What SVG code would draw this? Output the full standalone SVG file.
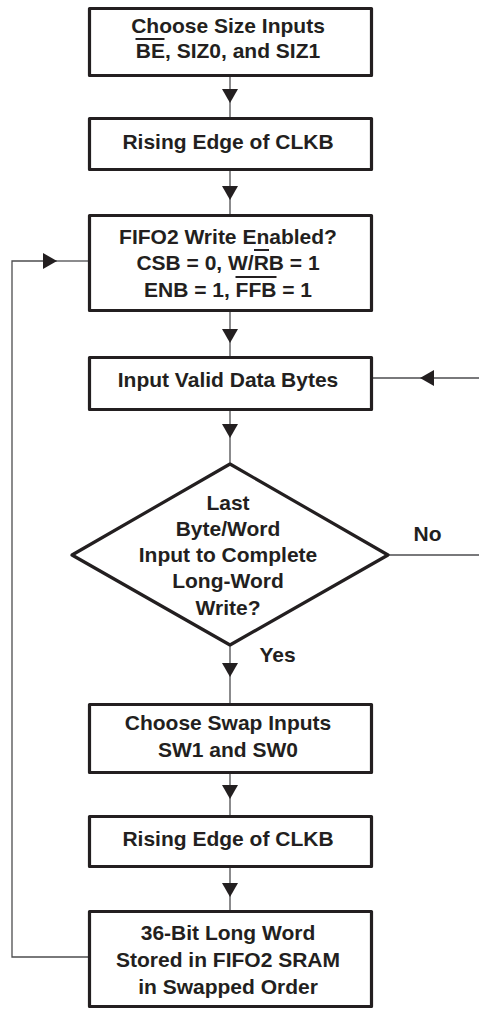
<svg xmlns="http://www.w3.org/2000/svg" width="479" height="1011" viewBox="0 0 479 1011">
  <style>
    .box { fill: #ffffff; stroke: #231f20; stroke-width: 3.2; stroke-linejoin: round; }
    .lbl { font-family: "Liberation Sans", Arial, sans-serif; font-weight: bold; font-size: 21px; fill: #231f20; text-anchor: middle; }
    .wire { fill: none; stroke: #4d4d4f; stroke-width: 1.3; }
    .bar { stroke: #231f20; stroke-width: 2; }
  </style>
  <defs>
    <marker id="head" markerUnits="userSpaceOnUse" viewBox="0 0 14 16" refX="14" refY="8" markerWidth="14" markerHeight="16" orient="auto">
      <path d="M0,0 L14,8 L0,16 Z" fill="#231f20"/>
    </marker>
  </defs>
  <rect width="479" height="1011" fill="#ffffff"/>

  <!-- connectors -->
  <g id="connectors">
    <path class="wire" marker-mid="url(#head)" d="M230,77 V103 V117"/>
    <path class="wire" marker-mid="url(#head)" d="M230,171 V200 V214"/>
    <path class="wire" marker-mid="url(#head)" d="M230,312 V343 V356"/>
    <path class="wire" marker-mid="url(#head)" d="M230,411 V438 V464"/>
    <path class="wire" marker-mid="url(#head)" d="M230,645 V677 V703"/>
    <path class="wire" marker-mid="url(#head)" d="M230,774 V799 V815"/>
    <path class="wire" marker-mid="url(#head)" d="M230,868 V897 V910"/>
    <!-- loop back from the store step to the write-enable check -->
    <path class="wire" marker-end="url(#head)" d="M88,957 H12 V261 H57"/>
    <path class="wire" d="M57,261 H88"/>
    <!-- "No" branch and its return into the data input step -->
    <path class="wire" d="M388,555 H479"/>
    <path class="wire" marker-mid="url(#head)" d="M479,378 H420 H372"/>
  </g>

  <g id="choose-size">
    <rect class="box" x="89.5" y="8.5" width="282" height="67"/>
    <text class="lbl" x="228" y="33">Choose Size Inputs</text>
    <text class="lbl" x="228" y="58">BE, SIZ0, and SIZ1</text>
    <line class="bar" x1="135.5" y1="39" x2="164.5" y2="39"/>
  </g>

  <g id="clkb-edge-1">
    <rect class="box" x="89.5" y="118.5" width="282" height="51"/>
    <text class="lbl" x="228" y="149">Rising Edge of CLKB</text>
  </g>

  <g id="write-enabled">
    <rect class="box" x="89.5" y="215.5" width="282" height="95"/>
    <text class="lbl" x="228" y="244">FIFO2 Write Enabled?</text>
    <text class="lbl" x="228" y="270">CSB = 0, W/RB = 1</text>
    <text class="lbl" x="228" y="297">ENB = 1, FFB = 1</text>
    <line class="bar" x1="254" y1="250" x2="269" y2="250"/>
    <line class="bar" x1="235.5" y1="277" x2="276.5" y2="277"/>
  </g>

  <g id="input-bytes">
    <rect class="box" x="89.5" y="357.5" width="282" height="52"/>
    <text class="lbl" x="228" y="387">Input Valid Data Bytes</text>
  </g>

  <g id="last-word">
    <polygon class="box" points="230,464 388,555 230,645 72,555"/>
    <text class="lbl" x="228" y="510">Last</text>
    <text class="lbl" x="228" y="536">Byte/Word</text>
    <text class="lbl" x="228" y="562">Input to Complete</text>
    <text class="lbl" x="228" y="588">Long-Word</text>
    <text class="lbl" x="228" y="615">Write?</text>
    <text class="lbl" x="427.5" y="541">No</text>
    <text class="lbl" x="277.5" y="662">Yes</text>
  </g>

  <g id="choose-swap">
    <rect class="box" x="89.5" y="704.5" width="282" height="68"/>
    <text class="lbl" x="228" y="730">Choose Swap Inputs</text>
    <text class="lbl" x="228" y="757">SW1 and SW0</text>
  </g>

  <g id="clkb-edge-2">
    <rect class="box" x="89.5" y="816.5" width="282" height="50"/>
    <text class="lbl" x="228" y="846">Rising Edge of CLKB</text>
  </g>

  <g id="store-word">
    <rect class="box" x="89.5" y="911.5" width="282" height="95"/>
    <text class="lbl" x="228" y="940">36-Bit Long Word</text>
    <text class="lbl" x="228" y="967">Stored in FIFO2 SRAM</text>
    <text class="lbl" x="228" y="994">in Swapped Order</text>
  </g>
</svg>
